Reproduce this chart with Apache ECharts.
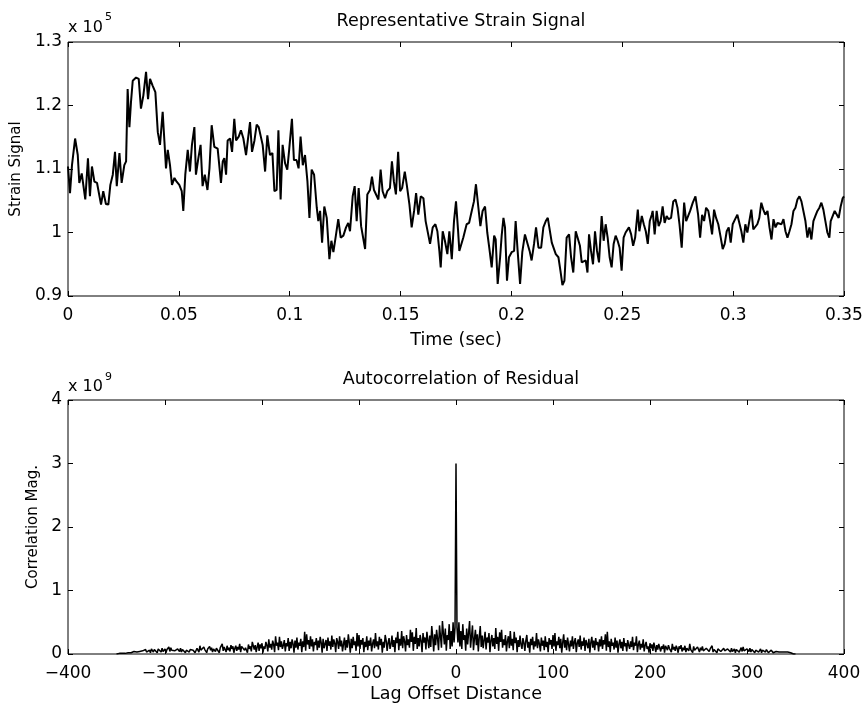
<!DOCTYPE html>
<html>
<head>
<meta charset="utf-8">
<script src="https://cdn.jsdelivr.net/npm/echarts@6/dist/echarts.min.js"></script>
<style>
html,body{margin:0;padding:0;background:#fff;}
#chart{width:867px;height:709px;}
</style>
</head>
<body>
<div id="chart"></div>
<script>
// ---------- Top panel: Representative Strain Signal (values in units of 1e5) ----------
const strainTime = [
0.0000,0.0009,0.0018,0.0032,0.0044,0.0051,0.0062,0.0069,0.0078,0.0090,0.0099,0.0108,0.0119,0.0131,0.0149,0.0159,0.0171,0.0182,0.0191,0.0202,
0.0212,0.0220,0.0232,0.0242,0.0254,0.0262,0.0269,0.0277,0.0284,0.0292,0.0307,0.0319,0.0329,0.0340,0.0352,0.0361,0.0370,0.0382,0.0394,0.0405,
0.0415,0.0427,0.0435,0.0442,0.0450,0.0460,0.0469,0.0480,0.0490,0.0502,0.0513,0.0520,0.0529,0.0540,0.0550,0.0559,0.0570,0.0577,0.0588,0.0598,
0.0607,0.0617,0.0629,0.0638,0.0648,0.0660,0.0675,0.0690,0.0698,0.0705,0.0713,0.0720,0.0731,0.0740,0.0750,0.0758,0.0770,0.0780,0.0791,0.0803,
0.0812,0.0821,0.0830,0.0841,0.0851,0.0860,
0.0878,0.0889,0.0899,0.0911,0.0922,0.0931,0.0941,0.0949,0.0959,0.0968,0.0979,0.0989,0.0998,0.1010,0.1019,0.1031,0.1040,0.1049,0.1059,0.1069,
0.1080,0.1089,0.1099,0.1110,0.1122,0.1129,0.1137,0.1146,0.1156,0.1167,0.1179,0.1188,0.1197,0.1209,0.1219,0.1230,0.1242,0.1254,0.1264,0.1272,
0.1284,0.1293,0.1302,0.1311,0.1322,0.1329,0.1340,0.1350,0.1362,0.1371,0.1380,0.1389,0.1400,0.1410,0.1419,0.1430,0.1440,0.1452,0.1461,0.1470,
0.1479,0.1489,0.1498,0.1507,0.1519,0.1528,0.1540,0.1550,0.1561,0.1570,0.1580,0.1591,0.1603,0.1613,0.1622,0.1633,0.1645,0.1657,0.1666,0.1675,
0.1681,0.1690,0.1700,0.1711,0.1720,0.1731,0.1741,0.1750,0.1759,0.1765,
0.1783,0.1798,0.1809,0.1821,0.1831,0.1840,0.1851,0.1860,0.1870,0.1881,0.1891,0.1900,0.1911,0.1922,0.1929,0.1938,0.1949,0.1956,0.1964,0.1971,
0.1980,0.1989,0.2001,0.2012,0.2019,0.2028,0.2039,0.2049,0.2061,0.2073,0.2082,0.2091,0.2102,0.2111,0.2122,0.2134,0.2144,0.2155,0.2164,0.2173,
0.2182,0.2191,0.2200,0.2212,0.2221,0.2230,0.2239,0.2249,0.2260,0.2269,0.2279,0.2290,0.2299,0.2309,0.2317,0.2326,0.2335,0.2343,0.2350,0.2359,
0.2368,0.2377,0.2386,0.2395,0.2407,0.2416,0.2425,0.2434,0.2443,0.2452,0.2461,0.2470,0.2479,0.2488,0.2497,0.2506,0.2515,0.2524,0.2530,0.2540,
0.2549,0.2558,0.2570,0.2577,0.2588,0.2597,0.2606,0.2615,0.2624,0.2633,
0.2637,0.2646,0.2655,0.2664,0.2673,0.2682,0.2691,0.2700,0.2709,0.2720,0.2730,0.2740,0.2749,0.2758,0.2768,0.2779,0.2788,0.2797,0.2806,0.2818,
0.2830,0.2842,0.2851,0.2860,0.2869,0.2878,0.2888,0.2896,0.2905,0.2914,0.2923,0.2933,0.2944,0.2953,0.2962,0.2971,0.2980,0.2989,0.2998,0.3009,
0.3019,0.3028,0.3037,0.3046,0.3055,0.3064,0.3073,0.3082,0.3091,0.3100,0.3109,0.3118,0.3127,0.3136,0.3145,0.3155,0.3164,0.3173,0.3182,0.3191,
0.3200,0.3209,0.3218,0.3227,0.3236,0.3245,0.3254,0.3263,0.3272,0.3281,0.3290,0.3299,0.3308,0.3317,0.3326,0.3335,0.3344,0.3353,0.3362,0.3371,
0.3380,0.3389,0.3398,0.3407,0.3416,0.3425,0.3434,0.3440,0.3449,0.3458,0.3467,0.3476,0.3485,0.3494,0.3500
];
const strainValue = [
1.104,1.062,1.106,1.148,1.122,1.078,1.093,1.075,1.052,1.117,1.057,1.104,1.080,1.078,1.044,1.065,1.045,1.044,1.075,1.091,
1.127,1.073,1.125,1.078,1.106,1.112,1.226,1.166,1.205,1.239,1.244,1.242,1.195,1.216,1.253,1.210,1.242,1.231,1.221,1.158,
1.138,1.190,1.143,1.101,1.130,1.106,1.075,1.086,1.080,1.075,1.065,1.034,1.091,1.130,1.096,1.138,1.166,1.091,1.117,1.138,
1.073,1.091,1.067,1.101,1.169,1.135,1.132,1.078,1.112,1.117,1.091,1.145,1.148,1.127,1.179,1.145,1.151,1.161,1.148,1.122,
1.125,1.174,1.127,1.145,1.170,1.166,
1.138,1.096,1.153,1.122,1.125,1.065,1.067,1.161,1.052,1.138,1.109,1.099,1.132,1.179,1.114,1.114,1.101,1.151,1.106,1.122,
1.080,1.023,1.099,1.091,1.039,1.018,1.034,0.984,1.041,1.023,0.958,0.987,0.969,0.997,1.021,0.992,0.995,1.008,1.015,1.002,
1.057,1.073,1.018,1.070,1.010,1.010,0.974,1.060,1.067,1.088,1.067,1.065,1.052,1.099,1.065,1.054,1.065,1.070,1.112,1.080,
1.060,1.127,1.065,1.070,1.096,1.075,1.044,1.008,1.034,1.062,1.028,1.057,1.054,1.018,1.021,0.982,1.008,1.013,1.002,0.971,
0.945,1.002,0.987,0.966,1.002,0.958,1.018,1.049,1.005,0.971,
0.992,1.013,1.015,1.034,1.049,1.076,1.039,1.010,1.034,1.041,1.000,0.976,0.945,0.995,0.989,0.919,0.961,0.995,1.023,1.008,
0.924,0.961,0.969,0.971,1.018,0.971,0.919,0.969,0.997,0.982,0.971,0.956,0.982,1.008,0.976,0.976,1.008,1.018,1.023,1.026,
0.984,0.982,0.966,0.961,0.940,0.917,0.924,0.992,0.997,0.961,0.937,1.002,1.002,0.979,0.953,0.950,0.956,0.937,0.997,0.971,
0.950,1.002,0.971,0.953,1.026,0.987,1.013,0.992,0.961,0.945,0.982,0.995,0.987,0.976,0.940,0.992,1.000,0.997,1.008,0.997,
0.979,0.992,1.036,1.002,1.026,1.013,1.002,0.982,1.018,1.028,
1.034,0.997,1.034,1.010,1.018,1.041,1.015,1.026,1.021,1.023,1.049,1.052,1.039,1.013,0.976,1.047,1.018,1.015,1.034,1.047,
1.057,1.028,0.992,1.028,1.018,1.039,1.034,1.018,0.997,1.036,1.023,1.013,0.992,0.974,0.982,1.002,1.008,0.984,1.013,1.021,
1.028,1.026,1.002,0.984,1.013,1.000,1.018,1.036,1.005,1.005,1.013,1.023,1.047,1.036,1.028,1.034,1.008,0.989,1.021,1.008,
1.015,1.018,1.013,1.021,1.002,0.992,1.002,1.013,1.034,1.039,1.052,1.057,1.049,1.047,1.018,0.992,1.008,0.989,1.018,1.026,
1.034,1.039,1.047,1.036,1.018,1.000,0.992,1.018,1.021,1.034,1.034,1.023,1.041,1.054,1.057
];

// ---------- Bottom panel: Autocorrelation of Residual (units of 1e9) ----------
// values read for lag 0..350; an autocorrelation is symmetric, so negative lags mirror these
const corrOneSided = [
3.00,
0.42,0.18,0.50,0.12,0.36,0.08,0.47,0.22,0.30,0.05,
0.40,0.15,0.33,0.52,0.10,0.28,0.45,0.06,0.24,0.38,
0.14,0.31,0.04,0.27,0.44,0.11,0.29,0.09,0.22,0.35,
0.07,0.26,0.18,0.33,0.03,0.21,0.30,0.12,0.25,0.08,
0.41,0.16,0.27,0.05,0.34,0.19,0.38,0.10,0.23,0.14,
0.30,0.04,0.20,0.28,0.09,0.36,0.13,0.24,0.06,0.35,
0.17,0.26,0.03,0.22,0.11,0.29,0.15,0.08,0.25,0.18,
0.05,0.21,0.30,0.10,0.19,0.02,0.24,0.14,0.27,0.07,
0.20,0.12,0.33,0.09,0.23,0.16,0.04,0.26,0.13,0.21,
0.06,0.28,0.11,0.19,0.03,0.25,0.15,0.22,0.08,0.30,
0.12,0.33,0.05,0.20,0.14,0.27,0.09,0.24,0.02,0.18,
0.31,0.10,0.22,0.06,0.26,0.15,0.04,0.21,0.12,0.28,
0.08,0.19,0.25,0.03,0.17,0.23,0.11,0.29,0.07,0.20,
0.13,0.26,0.05,0.22,0.16,0.09,0.24,0.02,0.18,0.27,
0.10,0.21,0.06,0.25,0.14,0.19,0.04,0.23,0.12,0.28,
0.08,0.22,0.15,0.31,0.05,0.35,0.11,0.20,0.03,0.24,
0.13,0.18,0.07,0.26,0.10,0.21,0.02,0.16,0.23,0.09,
0.19,0.05,0.25,0.12,0.17,0.04,0.22,0.14,0.08,0.20,
0.11,0.27,0.06,0.18,0.13,0.28,0.03,0.15,0.21,0.07,
0.16,0.10,0.23,0.04,0.14,0.19,0.08,0.12,0.02,0.17,
0.09,0.15,0.05,0.18,0.11,0.03,0.14,0.07,0.16,0.19,
0.04,0.12,0.08,0.15,0.02,0.13,0.10,0.06,0.14,0.09,
0.12,0.03,0.16,0.07,0.11,0.05,0.13,0.09,0.02,0.12,
0.08,0.14,0.04,0.10,0.06,0.13,0.03,0.09,0.11,0.05,
0.16,0.07,0.10,0.02,0.12,0.06,0.09,0.04,0.11,0.08,
0.03,0.10,0.06,0.12,0.05,0.08,0.02,0.09,0.07,0.11,
0.04,0.08,0.06,0.13,0.03,0.07,0.09,0.05,0.02,0.08,
0.06,0.10,0.04,0.07,0.03,0.09,0.05,0.06,0.02,0.08,
0.05,0.07,0.03,0.09,0.04,0.06,0.08,0.02,0.07,0.05,
0.09,0.03,0.06,0.10,0.04,0.11,0.05,0.07,0.02,0.08,
0.06,0.04,0.09,0.03,0.07,0.05,0.08,0.02,0.06,0.04,
0.07,0.03,0.05,0.08,0.02,0.06,0.04,0.05,0.03,0.07,
0.04,0.02,0.05,0.03,0.06,0.04,0.02,0.05,0.03,0.04,
0.02,0.04,0.03,0.05,0.02,0.03,0.04,0.02,0.03,0.02,
0.01,0.03,0.02,0.01,0.02,0.01,0.01,0.00,0.01,0.00
];

const topXTicks = {min:0, max:0.35, interval:0.05};
const topYTicks = {min:0.9, max:1.3, interval:0.1};
const botXTicks = {min:-400, max:400, interval:100};
const botYTicks = {min:0, max:4, interval:1};

// build series data
const strainData = strainTime.map((t, i) => [t, strainValue[i]]);
const corrData = [];
const nSide = corrOneSided.length - 1;
for (let k = -nSide; k <= nSide; k++) corrData.push([k, corrOneSided[Math.abs(k)]]);

const FONT = 'DejaVu Sans';
const tickStyle = {inside:true, length:5, lineStyle:{color:'#000', width:1}};
const labelStyle = {color:'#000', fontSize:17, fontFamily:FONT};
const minusFmt = v => (v < 0 ? '\u2212' + Math.abs(v) : String(v));

function xAx(grid, t, pos, extra, fmt) {
  const lbl = pos === 'top' ? {show:false} : Object.assign({margin:11}, labelStyle);
  if (fmt && pos !== 'top') lbl.formatter = fmt;
  return Object.assign({
    gridIndex:grid, type:'value', min:t.min, max:t.max, interval:t.interval, position:pos,
    axisLine:{show:false, onZero:false}, axisTick:tickStyle, splitLine:{show:false},
    axisLabel: lbl
  }, extra || {});
}
function yAx(grid, t, pos, extra) {
  return Object.assign({
    gridIndex:grid, type:'value', min:t.min, max:t.max, interval:t.interval, position:pos,
    axisLine:{show:false, onZero:false}, axisTick:tickStyle, splitLine:{show:false},
    axisLabel: pos === 'right' ? {show:false} : Object.assign({margin:6}, labelStyle)
  }, extra || {});
}
const nameStyleX = {color:'#000', fontSize:17.5, fontFamily:FONT};
const nameStyleY = {color:'#000', fontSize:15, fontFamily:FONT};

const chart = echarts.init(document.getElementById('chart'), null, {renderer:'canvas'});
chart.setOption({
  animation:false,
  backgroundColor:'#fff',
  title:[
    {text:'Representative Strain Signal', left:456, top:7, textAlign:'center',
     textStyle:{color:'#000', fontSize:17.5, fontWeight:'normal', fontFamily:FONT}},
    {text:'Autocorrelation of Residual', left:456, top:365, textAlign:'center',
     textStyle:{color:'#000', fontSize:17.5, fontWeight:'normal', fontFamily:FONT}}
  ],
  grid:[
    {left:68, top:42, width:776, height:254, show:true, borderColor:'#000', borderWidth:1, backgroundColor:'transparent'},
    {left:68, top:400, width:776, height:254, show:true, borderColor:'#000', borderWidth:1, backgroundColor:'transparent'}
  ],
  xAxis:[
    xAx(0, topXTicks, 'bottom', {name:'Time (sec)', nameLocation:'middle', nameGap:35, nameTextStyle:nameStyleX}),
    xAx(0, topXTicks, 'top'),
    xAx(1, botXTicks, 'bottom', {name:'Lag Offset Distance', nameLocation:'middle', nameGap:31, nameTextStyle:nameStyleX}, minusFmt),
    xAx(1, botXTicks, 'top')
  ],
  yAxis:[
    yAx(0, topYTicks, 'left', {name:'Strain Signal', nameLocation:'middle', nameGap:38, nameRotate:90, nameTextStyle:nameStyleY}),
    yAx(0, topYTicks, 'right'),
    yAx(1, botYTicks, 'left', {name:'Correlation Mag.', nameLocation:'middle', nameGap:23, nameRotate:90, nameTextStyle:nameStyleY}),
    yAx(1, botYTicks, 'right')
  ],
  graphic:[
    {type:'text', style:{text:'x 10', x:68, y:28, font:'16px "DejaVu Sans"', fill:'#000', textAlign:'left', textVerticalAlign:'middle', align:'left', verticalAlign:'middle'}},
    {type:'text', style:{text:'5', x:105, y:17, font:'11px "DejaVu Sans"', fill:'#000', textAlign:'left', textVerticalAlign:'middle', align:'left', verticalAlign:'middle'}},
    {type:'text', style:{text:'x 10', x:68, y:387, font:'16px "DejaVu Sans"', fill:'#000', textAlign:'left', textVerticalAlign:'middle', align:'left', verticalAlign:'middle'}},
    {type:'text', style:{text:'9', x:105, y:377, font:'11px "DejaVu Sans"', fill:'#000', textAlign:'left', textVerticalAlign:'middle', align:'left', verticalAlign:'middle'}}
  ],
  series:[
    {type:'line', xAxisIndex:0, yAxisIndex:0, data:strainData, symbol:'none', showSymbol:false,
     lineStyle:{color:'#000', width:2}, silent:true},
    {type:'line', xAxisIndex:2, yAxisIndex:2, data:corrData, symbol:'none', showSymbol:false,
     lineStyle:{color:'#000', width:1.5}, silent:true}
  ]
});
</script>
</body>
</html>
